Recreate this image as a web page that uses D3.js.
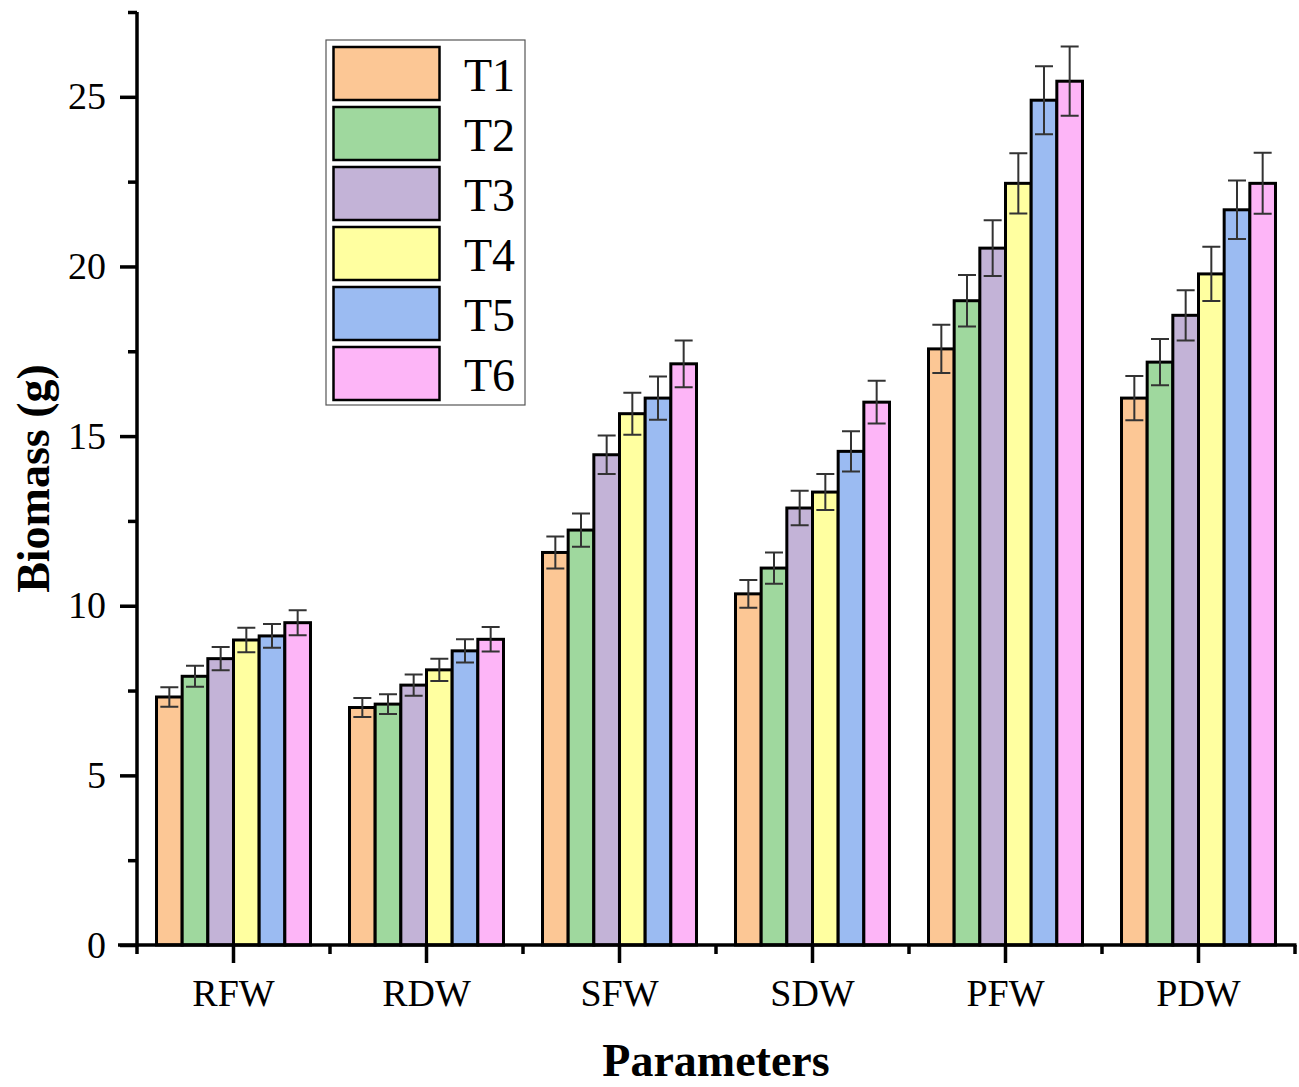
<!DOCTYPE html>
<html>
<head>
    <title>Biomass chart</title>
    <script src="https://d3js.org/d3.v7.min.js"></script>
    <style>
        body { margin: 0; background: #fff; }
        text { font-family: "Liberation Serif", "Times New Roman", serif; fill: #000; }
    </style>
</head>
<body>
    <svg id="chart" width="1299" height="1087"></svg>
    <script>
    // data
    var params = ["RFW", "RDW", "SFW", "SDW", "PFW", "PDW"];
    var treatments = ["T1", "T2", "T3", "T4", "T5", "T6"];
    var colors = ["#FCC795", "#9FD89E", "#C3B3D7", "#FFFFA0", "#9BBBF2", "#FDB5F7"];

    // one array per treatment, in the order of params
    var T1 = [7.31, 7.00, 11.57, 10.35, 17.57, 16.12];
    var T2 = [7.92, 7.10, 12.23, 11.11, 18.99, 17.18];
    var T3 = [8.44, 7.66, 14.45, 12.88, 20.54, 18.56];
    var T4 = [8.99, 8.11, 15.66, 13.35, 22.45, 19.78];
    var T5 = [9.11, 8.67, 16.12, 14.55, 24.90, 21.67];
    var T6 = [9.50, 9.01, 17.13, 16.00, 25.46, 22.45];

    var E1 = [0.29, 0.28, 0.47, 0.41, 0.71, 0.65];
    var E2 = [0.31, 0.29, 0.49, 0.46, 0.76, 0.68];
    var E3 = [0.34, 0.31, 0.57, 0.51, 0.82, 0.74];
    var E4 = [0.36, 0.33, 0.62, 0.53, 0.89, 0.80];
    var E5 = [0.35, 0.34, 0.64, 0.59, 1.00, 0.86];
    var E6 = [0.37, 0.36, 0.69, 0.63, 1.02, 0.90];

    var yTicks = [0, 5, 10, 15, 20, 25];
    var yMinor = [2.5, 7.5, 12.5, 17.5, 22.5, 27.5];

    var values = [T1, T2, T3, T4, T5, T6];
    var errors = [E1, E2, E3, E4, E5, E6];

    var rows = [];
    params.forEach(function(p, i) {
        treatments.forEach(function(t, j) {
            rows.push({ param: p, t: t, value: values[j][i], err: errors[j][i], color: colors[j] });
        });
    });

    var plotLeft = 137, plotRight = 1295, plotTop = 12, plotBottom = 945;

    var svg = d3.select('#chart');

    var x0 = d3.scaleBand()
        .domain(params)
        .range([plotLeft, plotRight])
        .padding(0);

    var x1 = d3.scaleBand()
        .domain(treatments)
        .range([0, x0.bandwidth()])
        .paddingInner(0)
        .paddingOuter(0.76);

    var y = d3.scaleLinear()
        .domain([0, 27.5])
        .range([plotBottom, plotTop]);

    // bars
    svg.append('g').selectAll('rect')
        .data(rows)
        .enter().append('rect')
        .attr('x', function(d) { return x0(d.param) + x1(d.t); })
        .attr('y', function(d) { return y(d.value); })
        .attr('width', x1.bandwidth())
        .attr('height', function(d) { return y(0) - y(d.value); })
        .attr('fill', function(d) { return d.color; })
        .attr('stroke', '#000')
        .attr('stroke-width', 3);

    // error bars
    var eb = svg.append('g')
        .attr('stroke', '#333')
        .attr('stroke-width', 2)
        .attr('fill', 'none');

    eb.selectAll('path')
        .data(rows)
        .enter().append('path')
        .attr('d', function(d) {
            var cx = x0(d.param) + x1(d.t) + x1.bandwidth() / 2;
            var hi = y(d.value + d.err), lo = y(d.value - d.err);
            var c = 9;
            return 'M' + (cx - c) + ',' + hi + 'H' + (cx + c) +
                   'M' + cx + ',' + hi + 'V' + lo +
                   'M' + (cx - c) + ',' + lo + 'H' + (cx + c);
        });

    // y axis
    var yAxis = svg.append('g')
        .attr('transform', 'translate(' + plotLeft + ',0)')
        .call(d3.axisLeft(y).tickValues(yTicks).tickSize(17).tickPadding(14));
    yAxis.select('.domain').remove();
    yAxis.selectAll('line').attr('stroke', '#000').attr('stroke-width', 3.5);
    yAxis.selectAll('text')
        .style('font-family', '"Liberation Serif", serif')
        .style('font-size', '38px');

    svg.append('g')
        .attr('transform', 'translate(' + plotLeft + ',0)')
        .call(d3.axisLeft(y).tickValues(yMinor).tickSize(9).tickFormat(''))
        .call(function(g) {
            g.select('.domain').remove();
            g.selectAll('line').attr('stroke', '#000').attr('stroke-width', 3.5);
        });

    svg.append('line')
        .attr('x1', plotLeft).attr('x2', plotLeft)
        .attr('y1', plotTop).attr('y2', plotBottom + 1.5)
        .attr('stroke', '#000').attr('stroke-width', 3.5);

    // x axis
    var xAxis = svg.append('g')
        .attr('transform', 'translate(0,' + plotBottom + ')')
        .call(d3.axisBottom(x0).tickSize(18).tickPadding(16));
    xAxis.select('.domain').remove();
    xAxis.selectAll('line').attr('stroke', '#000').attr('stroke-width', 3.5);
    xAxis.selectAll('text')
        .style('font-family', '"Liberation Serif", serif')
        .style('font-size', '38px');

    var bounds = params.map(function(p) { return x0(p); }).concat([plotRight]);
    svg.append('g').selectAll('line')
        .data(bounds)
        .enter().append('line')
        .attr('x1', function(d) { return d; })
        .attr('x2', function(d) { return d; })
        .attr('y1', plotBottom)
        .attr('y2', plotBottom + 9)
        .attr('stroke', '#000').attr('stroke-width', 3.5);

    svg.append('line')
        .attr('x1', plotLeft - 19).attr('x2', plotRight + 1.5)
        .attr('y1', plotBottom).attr('y2', plotBottom)
        .attr('stroke', '#000').attr('stroke-width', 3.5);

    // axis titles
    svg.append('text')
        .attr('x', (plotLeft + plotRight) / 2)
        .attr('y', 1076)
        .attr('text-anchor', 'middle')
        .style('font-size', '46px')
        .style('font-weight', 'bold')
        .text('Parameters');

    svg.append('text')
        .attr('transform', 'translate(49,' + ((plotTop + plotBottom) / 2) + ') rotate(-90)')
        .attr('text-anchor', 'middle')
        .style('font-size', '46px')
        .style('font-weight', 'bold')
        .text('Biomass (g)');

    // legend
    var legend = svg.append('g').attr('transform', 'translate(326,40)');
    legend.append('rect')
        .attr('x', 0).attr('y', 0)
        .attr('width', 199).attr('height', 365)
        .attr('fill', '#fff')
        .attr('stroke', '#555')
        .attr('stroke-width', 1.2);

    var items = legend.selectAll('g.item')
        .data(treatments)
        .enter().append('g')
        .attr('class', 'item')
        .attr('transform', function(d, i) { return 'translate(0,' + (7 + i * 60) + ')'; });

    items.append('rect')
        .attr('x', 7.5).attr('y', 0)
        .attr('width', 106).attr('height', 53)
        .attr('fill', function(d, i) { return colors[i]; })
        .attr('stroke', '#000')
        .attr('stroke-width', 2.5);

    items.append('text')
        .attr('x', 138)
        .attr('y', 44)
        .style('font-size', '46px')
        .text(function(d) { return d; });
    </script>
</body>
</html>
